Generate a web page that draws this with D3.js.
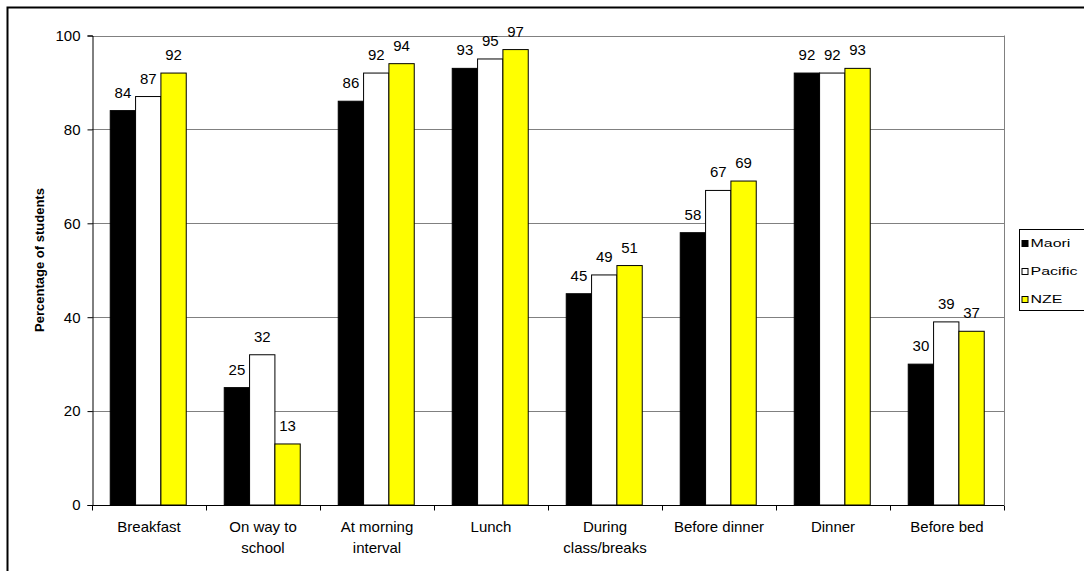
<!DOCTYPE html>
<html>
<head>
<meta charset="utf-8">
<script src="https://cdn.jsdelivr.net/npm/d3@7"></script>
<style>
  html, body { margin: 0; padding: 0; background: #fff; }
  svg { display: block; font-family: "Liberation Sans", Arial, sans-serif; }
</style>
</head>
<body>
<svg id="chart" width="1084" height="571"></svg>
<script>
// Share of students eating at each occasion, by ethnic group
const categories = [
  ["Breakfast"], ["On way to", "school"], ["At morning", "interval"], ["Lunch"],
  ["During", "class/breaks"], ["Before dinner"], ["Dinner"], ["Before bed"]
];
const seriesNames = ["Maori", "Pacific", "NZE"];
const seriesColors = ["#000000", "#ffffff", "#ffff00"];
const maori   = [84, 25, 86, 93, 45, 58, 92, 30];
const pacific = [87, 32, 92, 95, 49, 67, 92, 39];
const nze     = [92, 13, 94, 97, 51, 69, 93, 37];
const yTicks  = [0, 20, 40, 60, 80, 100];
const seriesValues = [maori, pacific, nze];

const svg = d3.select("#chart");
const FONT = 15;

// outer chart frame
svg.append("rect")
  .attr("x", 7.5).attr("y", 7.5).attr("width", 1090).attr("height", 590)
  .attr("fill", "#fff").attr("stroke", "#000").attr("stroke-width", 2);

const plotL = 92, plotR = 1004, plotT = 35.5, plotB = 505;

const x0 = d3.scaleBand().domain(d3.range(categories.length)).range([plotL, plotR]).paddingInner(0).paddingOuter(0);
const groupW = x0.bandwidth();
const barW = groupW / 4.5;
const x1 = d3.scaleBand().domain(d3.range(3)).range([0.72 * barW, 3.72 * barW]);
const y = d3.scaleLinear().domain([0, 100]).range([plotB, plotT]);

// gridlines
svg.append("g").selectAll("line").data(yTicks.filter(t => t > 0)).join("line")
  .attr("x1", plotL).attr("x2", plotR)
  .attr("y1", d => Math.round(y(d)) + 0.5).attr("y2", d => Math.round(y(d)) + 0.5)
  .attr("stroke", "#808080").attr("stroke-width", 1);

// right edge of plot area
svg.append("line")
  .attr("x1", plotR + 0.5).attr("x2", plotR + 0.5).attr("y1", plotT).attr("y2", plotB)
  .attr("stroke", "#808080").attr("stroke-width", 1);

// bars with value labels
const groups = svg.append("g").selectAll("g").data(categories).join("g")
  .attr("transform", (d, i) => `translate(${x0(i)},0)`);

groups.each(function(cat, ci) {
  const g = d3.select(this);
  seriesValues.forEach((vals, si) => {
    const v = vals[ci];
    g.append("rect")
      .attr("x", x1(si)).attr("y", y(v))
      .attr("width", x1.bandwidth()).attr("height", y(0) - y(v))
      .attr("fill", seriesColors[si]).attr("stroke", "#000").attr("stroke-width", 1);
    g.append("text")
      .attr("x", x1(si) + x1.bandwidth() / 2).attr("y", y(v) - 13)
      .attr("text-anchor", "middle").attr("font-size", FONT).attr("fill", "#000")
      .text(v);
  });
});

// y axis
const yAxis = d3.axisLeft(y).tickValues(yTicks).tickSize(5).tickPadding(7);
const yg = svg.append("g").attr("transform", `translate(${plotL + 0.5},0)`).call(yAxis);
yg.select(".domain").attr("stroke", "#000");
yg.selectAll(".tick line").attr("stroke", "#000");
yg.selectAll(".tick text").attr("font-size", FONT).attr("fill", "#000")
  .attr("font-family", "Liberation Sans, Arial, sans-serif");

// x axis with category ticks between groups
const xLin = d3.scaleLinear().domain([0, categories.length]).range([plotL, plotR]);
const xg = svg.append("g").attr("transform", `translate(0,${plotB + 0.5})`);
xg.append("line").attr("x1", plotL).attr("x2", plotR).attr("stroke", "#000");
xg.selectAll("line.tk").data(d3.range(categories.length + 1)).join("line")
  .attr("class", "tk")
  .attr("x1", d => Math.round(xLin(d)) + 0.5).attr("x2", d => Math.round(xLin(d)) + 0.5)
  .attr("y1", 0).attr("y2", 5).attr("stroke", "#000");

const labels = svg.append("g").selectAll("text").data(categories).join("text")
  .attr("text-anchor", "middle").attr("font-size", FONT).attr("fill", "#000")
  .attr("transform", (d, i) => `translate(${x0(i) + groupW / 2},${plotB + 27})`);
labels.selectAll("tspan").data(d => d).join("tspan")
  .attr("x", 0).attr("dy", (d, i) => i === 0 ? 0 : 20.5)
  .text(d => d);

// y axis title
svg.append("text")
  .attr("transform", `translate(44,260) rotate(-90)`)
  .attr("text-anchor", "middle").attr("font-size", 13).attr("font-weight", "bold")
  .text("Percentage of students");

// legend
const lg = svg.append("g").attr("transform", "translate(1019.5,229.5)");
lg.append("rect").attr("width", 80).attr("height", 81)
  .attr("fill", "#fff").attr("stroke", "#000").attr("stroke-width", 1);
seriesNames.forEach((name, i) => {
  const base = 17 + i * 28;
  lg.append("rect").attr("x", 2.5).attr("y", base - 6).attr("width", 6).attr("height", 6)
    .attr("fill", seriesColors[i]).attr("stroke", "#000");
  lg.append("text")
    .attr("transform", `translate(11,${base}) scale(1.45,1)`)
    .attr("font-size", 11).attr("fill", "#000").text(name);
});
</script>
</body>
</html>
